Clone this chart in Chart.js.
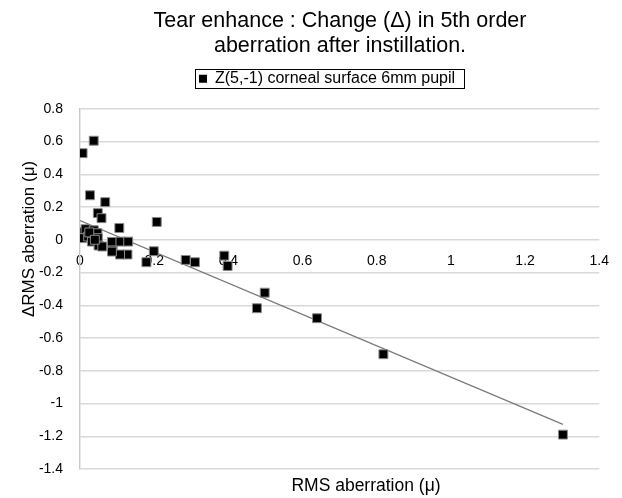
<!DOCTYPE html>
<html>
<head>
<meta charset="utf-8">
<script src="https://cdn.jsdelivr.net/npm/chart.js@4/dist/chart.umd.min.js"></script>
<style>
body{margin:0;background:#fff;}
</style>
</head>
<body>
<canvas id="scatterChart" width="622" height="498"></canvas>
<script>
// RMS aberration (x) vs change after instillation (y)
const rmsX=[0.037,0.007,0.027,0.068,0.048,0.058,0.207,0.106,0.000,0.015,0.037,0.047,0.006,0.022,0.032,0.048,0.050,0.060,0.086,0.088,0.109,0.130,0.128,0.108,0.086,0.199,0.179,0.285,0.310,0.389,0.398,0.477,0.498,0.639,0.818,1.302,0.025,0.040];
const deltaY=[0.605,0.529,0.272,0.230,0.163,0.132,0.109,0.072,0.046,0.065,0.058,0.040,0.010,0.020,-0.011,0.010,-0.035,-0.041,-0.013,-0.065,-0.011,-0.011,-0.090,-0.090,-0.072,-0.070,-0.137,-0.123,-0.137,-0.097,-0.160,-0.418,-0.323,-0.479,-0.699,-1.190,0.045,0.000];
// linear trend line end points
const trendX=[0,1.302];
const trendY=[0.117,-1.127];

const seriesName='Z(5,-1) corneal surface 6mm pupil';
const titleLines=['Tear enhance : Change (\u0394) in 5th order','aberration after instillation.'];
const xTitle='RMS aberration (\u03bc)';
const yTitle='\u0394RMS aberration (\u03bc)';

let pts=[];
for(let i=0;i<rmsX.length;i++){
	pts.push({x:rmsX[i],y:deltaY[i]});
}
let trend=[];
for(let i=0;i<trendX.length;i++){
	trend.push({x:trendX[i],y:trendY[i]});
}

const fnt='"Liberation Sans", Arial, sans-serif';

// move title / legend to where they sit in the picture
const placeBlocks={
	id:'placeBlocks',
	afterLayout(chart){
		const t=chart.titleBlock;
		if(t){
			const dx=340-(t.left+t.right)/2;
			t.left+=dx; t.right+=dx;
		}
		const lg=chart.legend;
		if(lg){
			const P=lg.options.labels.padding;
			const dx=332-(lg.left+lg.right+P)/2;
			const h=lg.bottom-lg.top;
			lg.left+=dx; lg.right+=dx;
			lg.top=78.8-8-P;
			lg.bottom=lg.top+h;
		}
	}
};

// legend frame + axis titles
const extras={
	id:'extras',
	afterDraw(chart){
		const ctx=chart.ctx;
		ctx.save();
		const hb=chart.legend.legendHitBoxes;
		if(hb&&hb.length){
			const b=hb[0];
			const cy=b.top+b.height/2;
			ctx.strokeStyle='#000';
			ctx.lineWidth=1;
			ctx.strokeRect(Math.round(b.left-3.5)+0.5,Math.round(cy-9.5)+0.5,Math.round(b.width+12.5),19);
		}
		ctx.fillStyle='#000';
		ctx.font='17.5px '+fnt;
		ctx.textAlign='center';
		ctx.textBaseline='middle';
		ctx.fillText(xTitle,366,486);
		ctx.font='17px '+fnt;
		ctx.translate(29,239);
		ctx.rotate(-Math.PI/2);
		ctx.fillText(yTitle,0,0);
		ctx.restore();
	}
};

function fmt(v){
	return String(Math.round(v*10)/10);
}

var ctx=document.getElementById('scatterChart').getContext('2d');
var chart=new Chart(ctx,{
	type:'scatter',
	data:{
		datasets:[{
			label:seriesName,
			data:pts,
			pointStyle:'rect',
			pointRadius:6.3,
			pointHoverRadius:6.3,
			backgroundColor:'#000',
			borderColor:'#8a8a8a',
			borderWidth:1,
			order:1
		},{
			label:'trend',
			type:'line',
			data:trend,
			showLine:true,
			borderColor:'#7a7a7a',
			borderWidth:1.3,
			pointRadius:0,
			fill:false,
			order:2
		}]
	},
	options:{
		responsive:false,
		animation:false,
		layout:{padding:{left:0,right:15,top:0,bottom:29}},
		plugins:{
			title:{
				display:true,
				text:titleLines,
				color:'#000',
				font:{family:fnt,size:21.5,weight:'normal',lineHeight:1.17},
				padding:{top:8.5,bottom:14}
			},
			legend:{
				display:true,
				labels:{
					color:'#000',
					font:{family:fnt,size:16},
					boxWidth:8,
					boxHeight:8,
					padding:10,
					generateLabels:function(c){
						return [{text:seriesName,fillStyle:'#000',strokeStyle:'#000',lineWidth:0,datasetIndex:0}];
					}
				}
			},
			tooltip:{enabled:false}
		},
		scales:{
			x:{
				type:'linear',
				min:0,
				max:1.4,
				position:{y:0},
				ticks:{stepSize:0.2,color:'#000',font:{family:fnt,size:14},padding:13,callback:fmt},
				grid:{display:false,drawTicks:false},
				border:{display:false}
			},
			y:{
				type:'linear',
				min:-1.4,
				max:0.8,
				ticks:{stepSize:0.2,color:'#000',font:{family:fnt,size:14},padding:17,callback:fmt},
				grid:{color:'#d9d9d9',lineWidth:1.4,drawTicks:false},
				border:{display:true,color:'#c8c8c8',width:1.4},
				afterFit:function(s){s.width=80;}
			}
		}
	},
	plugins:[placeBlocks,extras]
});
</script>
</body>
</html>
